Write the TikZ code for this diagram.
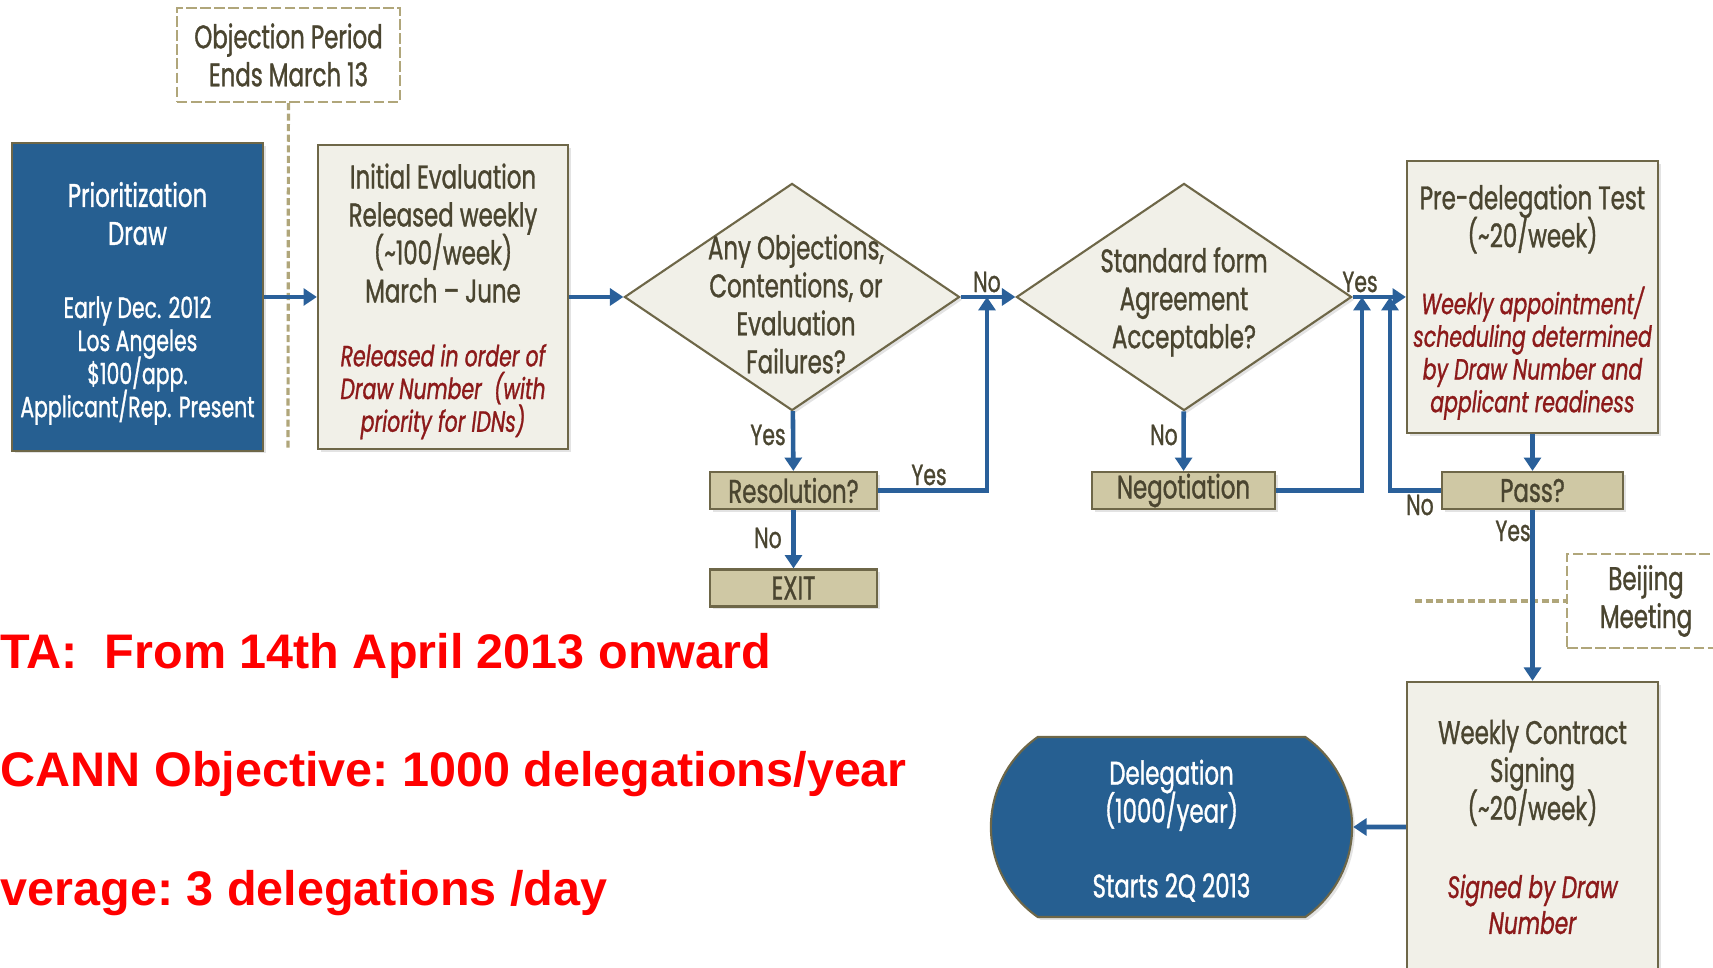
\documentclass[tikz,border=0pt]{standalone}
\usepackage{fontspec}
\setmainfont{Poppins}[FakeStretch=0.70, FakeBold=1.0]
\newfontfamily\bannerfont{Liberation Sans}
\usetikzlibrary{arrows.meta, positioning, shapes.geometric, shapes.misc, shadows, calc}

\definecolor{drawblue}{RGB}{38,95,145}
\definecolor{paperfill}{RGB}{241,240,232}
\definecolor{boxedge}{RGB}{110,103,72}
\definecolor{tanfill}{RGB}{207,200,164}
\definecolor{inktext}{RGB}{74,69,48}
\definecolor{notered}{RGB}{140,26,26}
\definecolor{flowblue}{RGB}{42,96,154}
\definecolor{dashtan}{RGB}{176,166,122}

\newcommand{\bigtxt}{\fontsize{9.3}{10.8}\selectfont\lineskiplimit=-6pt\lineskip=0pt}
\newcommand{\smalltxt}{\fontsize{8.3}{9.3}\selectfont}
\newcommand{\notetxt}{\smalltxt\itshape\color{notered}}
\newcommand{\lbltxt}{\fontsize{8.3}{10}\selectfont}
\newcommand{\bannertxt}{\bannerfont\bfseries\fontsize{13.8}{16}\selectfont\frenchspacing}

\tikzset{
  softshadow/.style={drop shadow={shadow xshift=0.8pt, shadow yshift=-0.8pt, opacity=0.22}},
  flow/.style={draw=flowblue, line width=1.3pt, -{Triangle[length=3.8pt, width=4.8pt]}},
  paperbox/.style={draw=boxedge, fill=paperfill, line width=0.6pt, text=inktext,
    align=center, inner sep=0pt, font=\bigtxt, softshadow},
  bluebox/.style={paperbox, fill=drawblue, text=white},
  stepbox/.style={paperbox, fill=tanfill, minimum height=0.37cm},
  decision/.style={diamond, draw=boxedge, fill=paperfill, line width=0.6pt, inner sep=0pt,
    minimum width=3.35cm, minimum height=2.27cm, softshadow},
  qtext/.style={text=inktext, align=center, inner sep=0pt, font=\bigtxt},
  notebox/.style={draw=dashtan, dash pattern=on 3pt off 1pt, fill=white, line width=0.6pt,
    text=inktext, align=center, inner sep=0pt, font=\bigtxt},
  timeline/.style={draw=dashtan, dash pattern=on 2pt off 1pt, line width=0.9pt},
  flowlabel/.style={text=inktext, inner sep=0pt, font=\lbltxt},
  banner/.style={anchor=base west, inner sep=0pt, text=red, font=\bannertxt}
}

\begin{document}
\begin{tikzpicture}[x=0.01cm, y=-0.01cm]
    % canvas in pixel units, y pointing down
    \useasboundingbox (0,0) rectangle (1713,968);
    \clip (0,0) rectangle (1713,968);

    % Dashed notes and their time lines
    \node[notebox, minimum width=2.23cm, minimum height=0.94cm] (objection) at (288.5,55) {Objection Period\\Ends March 13};
    \node[notebox, minimum width=1.58cm, minimum height=0.94cm] (beijing) at (1646,601) {Beijing\\Meeting};
    \coordinate (objend) at (288,448);
    \coordinate (beijingend) at (1415,601);
    \draw[timeline] (objection) -- (objend);
    \draw[timeline] (beijingend) -- (beijing);

    % Top row (the 0pt rules push the text blocks down a little)
    \node[bluebox, minimum width=2.51cm, minimum height=3.07cm] (prio) at (137.5,297)
        {\rule{0pt}{10.7pt}Prioritization\\Draw\\[10pt]\smalltxt Early Dec. 2012\\[-1.4pt]\smalltxt Los Angeles\\[-1.4pt]
         \smalltxt\$100/app.\\[-1.4pt]\smalltxt Applicant/Rep. Present};
    \node[paperbox, minimum width=2.50cm, minimum height=3.04cm] (initeval) at (443,297)
        {\rule{0pt}{9.6pt}Initial Evaluation\\Released weekly\\(\textasciitilde100/week)\\March -- June\\[7.4pt]
         \notetxt Released in order of\\[-1.5pt]\notetxt Draw Number\ \ (with\\[-1.5pt]\notetxt priority for IDNs)};
    \node[decision] (objq) at (792,297) {};
    \node[qtext] (objqtext) at (796,304) {Any Objections,\\Contentions, or\\Evaluation\\Failures?};
    \node[decision] (agreeq) at (1184,297) {};
    \node[qtext] (agreeqtext) at (1184,302) {Standard form\\Agreement\\Acceptable?};
    \node[paperbox, minimum width=2.51cm, minimum height=2.72cm] (predel) at (1532.5,297)
        {\rule{0pt}{10pt}Pre-delegation Test\\(\textasciitilde20/week)\\[8.2pt]
         \notetxt Weekly appointment/\\[-1.5pt]\notetxt scheduling determined\\[-1.5pt]
         \notetxt by Draw Number and\\[-1.5pt]\notetxt applicant readiness};

    % Small step boxes
    \node[stepbox, minimum width=1.67cm] (resolution) at (793.5,490.5) {Resolution?};
    \node[stepbox, minimum width=1.67cm] (exit) at (793.5,588) {EXIT};
    \node[stepbox, minimum width=1.83cm] (negotiation) at (1183.5,490.5) {Negotiation};
    \node[stepbox, minimum width=1.81cm] (pass) at (1532.5,490.5) {Pass?};

    % Contract signing and delegation
    \node[paperbox, minimum width=2.51cm, minimum height=2.90cm] (contract) at (1532.5,827)
        {Weekly Contract\\Signing\\(\textasciitilde20/week)\\[11.4pt]
         \notetxt\fontsize{8.8}{9.8}\selectfont Signed by Draw\\[-0.6pt]\notetxt\fontsize{8.8}{9.8}\selectfont Number};
    \node[paperbox, rounded rectangle, rounded rectangle arc length=110, fill=drawblue, text=white,
        minimum width=3.61cm, minimum height=1.80cm] (deleg) at (1171.5,827)
        {\rule{0pt}{9.2pt}Delegation\\(1000/year)\\[10.5pt]Starts 2Q 2013};

    % Junction points on the top line
    \coordinate (nojoin) at (987,297);
    \coordinate (negjoin) at (1362,297);
    \coordinate (passjoin) at (1390,297);

    % Connectors
    \draw[flow] (prio) -- (initeval);
    \draw[flow] (initeval) -- (objq);
    \draw[flow] (objq) -- (agreeq);
    \draw[flow] (agreeq) -- (predel);
    \draw[flow] (objq) -- (resolution);
    \draw[flow] (resolution) -- (exit);
    \draw[flow] (resolution) -| (nojoin);
    \draw[flow] (agreeq) -- (negotiation);
    \draw[flow] (negotiation) -| (negjoin);
    \draw[flow] (predel) -- (pass);
    \draw[flow] (pass) -| (passjoin);
    \draw[flow] (pass) -- (contract);
    \draw[flow] (contract) -- (deleg);

    % Yes / No labels
    \node[flowlabel] (objqyes) at (768,435) {Yes};
    \node[flowlabel] (resno) at (768,538) {No};
    \node[flowlabel] (objqno) at (987,282) {No};
    \node[flowlabel] (resyes) at (929,475) {Yes};
    \node[flowlabel] (agreeqyes) at (1360,282) {Yes};
    \node[flowlabel] (agreeqno) at (1164,435) {No};
    \node[flowlabel] (passno) at (1420,505) {No};
    \node[flowlabel] (passyes) at (1513,531) {Yes};

    % Red notes along the left edge
    \node[banner] (eta) at (0,669) {TA:\ \ From 14th April 2013 onward};
    \node[banner] (objective) at (0,787) {CANN Objective: 1000 delegations/year};
    \node[banner] (average) at (0,906) {verage: 3 delegations /day};
\end{tikzpicture}
\end{document}
